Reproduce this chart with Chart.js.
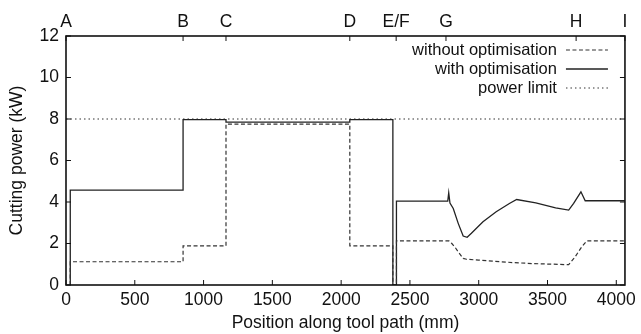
<!DOCTYPE html>
<html>
<head>
<meta charset="utf-8">
<script src="https://cdn.jsdelivr.net/npm/chart.js@4/dist/chart.umd.min.js"></script>
<style>
  body { margin: 0; background: #fff; }
</style>
</head>
<body>
<canvas id="power-chart" width="641" height="334"></canvas>
<script>
// data (x in mm, y in kW)
var withoutX = [31, 31, 851, 851, 1163, 1163, 2063, 2063, 2376, 2376, 2402, 2402, 2783, 2803, 2830, 2851, 2887, 2911, 3000, 3100, 3250, 3400, 3654, 3700, 3750, 3786, 4063];
var withoutY = [0, 1.12, 1.12, 1.89, 1.89, 7.75, 7.75, 1.89, 1.89, 0, 0, 2.13, 2.13, 2.01, 1.8, 1.6, 1.28, 1.24, 1.2, 1.15, 1.08, 1.03, 0.98, 1.35, 1.85, 2.13, 2.13];

var withX = [31, 31, 851, 851, 1163, 1163, 2063, 2063, 2376, 2376, 2402, 2402, 2775, 2782, 2791, 2815, 2851, 2887, 2916, 2947, 3031, 3127, 3223, 3276, 3415, 3559, 3654, 3690, 3743, 3774, 4063];
var withY = [0, 4.57, 4.57, 7.97, 7.97, 7.85, 7.85, 7.97, 7.97, 0, 0, 4.04, 4.04, 4.44, 3.95, 3.69, 2.97, 2.36, 2.3, 2.49, 3.05, 3.53, 3.93, 4.12, 3.96, 3.72, 3.61, 3.93, 4.49, 4.06, 4.06];

var limitX = [0, 4063];
var limitY = [8, 8];

var seriesNames = ["without optimisation", "with optimisation", "power limit"];

var xTicks = [0, 500, 1000, 1500, 2000, 2500, 3000, 3500, 4000];
var yTicks = [0, 2, 4, 6, 8, 10, 12];
var topPos = [0, 851, 1163, 2063, 2400, 2762, 3708, 4063];
var topLabels = ["A", "B", "C", "D", "E/F", "G", "H", "I"];

var X_MAX = 4063;
var FONT = { family: "'Liberation Sans', Arial, sans-serif", size: 17.5 };

function pts(xs, ys) {
  return xs.map(function (x, i) { return { x: x, y: ys[i] }; });
}

// frame, inward ticks (gnuplot style) and the legend with samples on the right
var framePlugin = {
  id: 'frame',
  afterDatasetsDraw: function (chart) {
    var ctx = chart.ctx, a = chart.chartArea;
    var xs = chart.scales.x, ys = chart.scales.y, xt = chart.scales.xTop;
    var t = 5;
    ctx.save();
    ctx.strokeStyle = '#111';
    ctx.lineWidth = 1;
    ctx.beginPath();
    xs.ticks.forEach(function (tk) {
      var px = xs.getPixelForValue(tk.value);
      ctx.moveTo(px, a.bottom); ctx.lineTo(px, a.bottom - t);
    });
    xt.ticks.forEach(function (tk) {
      var px = xt.getPixelForValue(tk.value);
      ctx.moveTo(px, a.top); ctx.lineTo(px, a.top + t);
    });
    ys.ticks.forEach(function (tk) {
      var py = ys.getPixelForValue(tk.value);
      ctx.moveTo(a.left, py); ctx.lineTo(a.left + t, py);
      ctx.moveTo(a.right, py); ctx.lineTo(a.right - t, py);
    });
    ctx.stroke();
    ctx.lineWidth = 1.6;
    ctx.strokeRect(a.left, a.top, a.right - a.left, a.bottom - a.top);

    // legend
    ctx.font = "16.5px " + FONT.family;
    ctx.textAlign = 'right';
    ctx.textBaseline = 'middle';
    ctx.fillStyle = '#111';
    chart.data.datasets.forEach(function (ds, i) {
      var y = a.top + 14 + i * 19;
      var xr = a.right - 68;
      ctx.fillText(ds.label, xr, y);
      ctx.beginPath();
      ctx.setLineDash(ds.borderDash || []);
      ctx.lineWidth = ds.borderWidth;
      ctx.strokeStyle = ds.borderColor;
      ctx.moveTo(xr + 9, y);
      ctx.lineTo(xr + 51, y);
      ctx.stroke();
      ctx.setLineDash([]);
    });
    ctx.restore();
  }
};

var powerChart = new Chart(document.getElementById('power-chart'), {
  type: 'scatter',
  data: {
    datasets: [
      {
        label: seriesNames[0],
        data: pts(withoutX, withoutY),
        showLine: true,
        borderColor: '#333',
        borderWidth: 1.2,
        borderDash: [4, 2.5],
        pointRadius: 0
      },
      {
        label: seriesNames[1],
        data: pts(withX, withY),
        showLine: true,
        borderColor: '#222',
        borderWidth: 1.3,
        pointRadius: 0
      },
      {
        label: seriesNames[2],
        data: pts(limitX, limitY),
        showLine: true,
        borderColor: '#333',
        borderWidth: 1.2,
        borderDash: [1.5, 3],
        pointRadius: 0
      }
    ]
  },
  options: {
    responsive: false,
    animation: false,
    devicePixelRatio: 1,
    layout: { padding: { left: 0, right: 11, top: 0, bottom: 0 } },
    plugins: {
      legend: { display: false },
      tooltip: { enabled: false }
    },
    scales: {
      x: {
        type: 'linear',
        position: 'bottom',
        min: 0,
        max: X_MAX,
        afterBuildTicks: function (s) { s.ticks = xTicks.map(function (v) { return { value: v }; }); },
        afterFit: function (s) { s.height = 49; },
        grid: { display: false, drawTicks: false },
        border: { display: false },
        ticks: {
          font: FONT, color: '#111', padding: 5, maxRotation: 0, autoSkip: false,
          callback: function (v) { return String(v); }
        },
        title: {
          display: true,
          text: 'Position along tool path (mm)',
          font: FONT,
          color: '#111',
          padding: { top: 0, bottom: 0 }
        }
      },
      xTop: {
        type: 'linear',
        position: 'top',
        min: 0,
        max: X_MAX,
        afterBuildTicks: function (s) { s.ticks = topPos.map(function (v) { return { value: v }; }); },
        afterFit: function (s) { s.height = 36; },
        grid: { display: false, drawTicks: false },
        border: { display: false },
        ticks: {
          font: FONT,
          color: '#111',
          padding: 3,
          maxRotation: 0,
          autoSkip: false,
          callback: function (v, i) { return topLabels[i]; }
        }
      },
      y: {
        type: 'linear',
        min: 0,
        max: 12,
        afterBuildTicks: function (s) { s.ticks = yTicks.map(function (v) { return { value: v }; }); },
        afterFit: function (s) { s.width = 66; },
        grid: { display: false, drawTicks: false },
        border: { display: false },
        ticks: { font: FONT, color: '#111', padding: 7, callback: function (v) { return String(v); } },
        title: {
          display: true,
          text: 'Cutting power (kW)',
          font: FONT,
          color: '#111',
          padding: { top: 7, bottom: 0 }
        }
      }
    }
  },
  plugins: [framePlugin]
});
</script>
</body>
</html>
